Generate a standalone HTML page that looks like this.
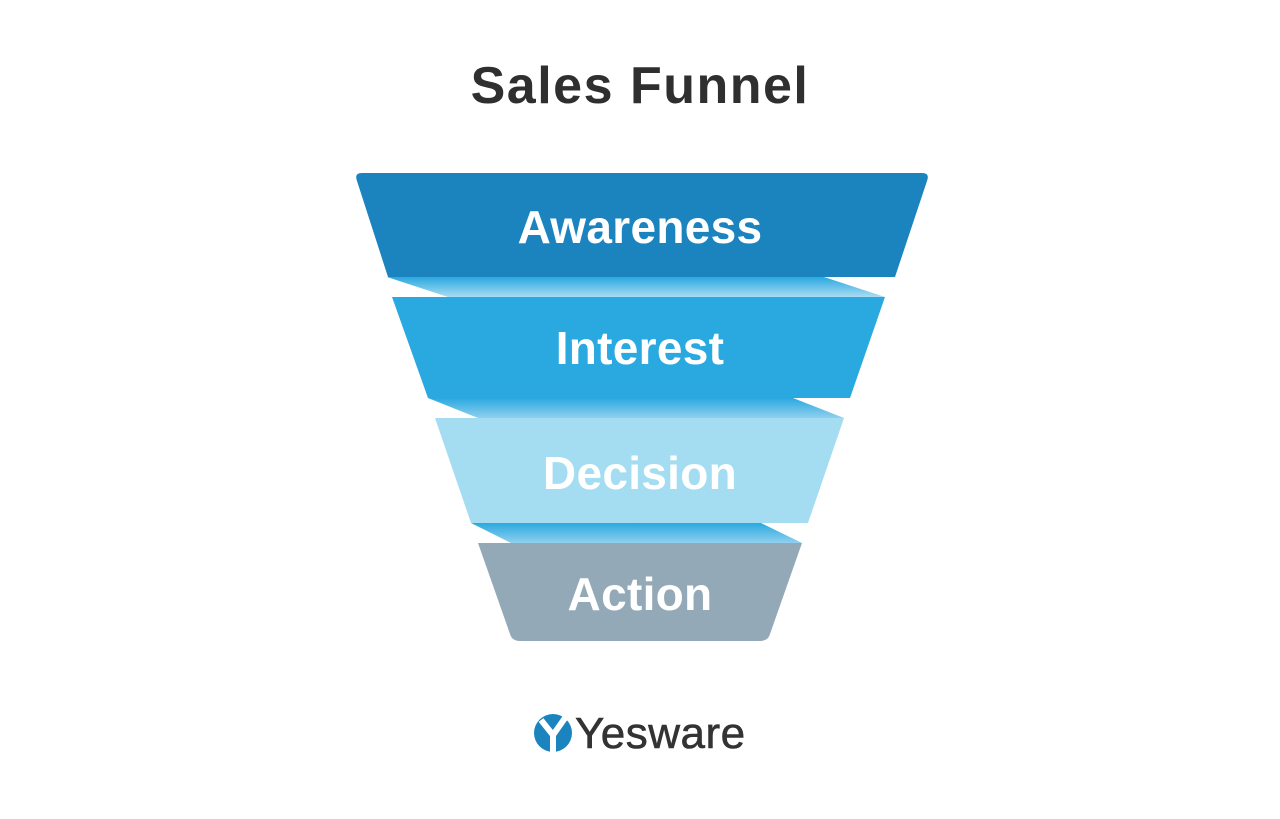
<!DOCTYPE html>
<html><head><meta charset="utf-8"><style>
html,body{margin:0;padding:0;background:#fff;}
body{width:1280px;height:814px;overflow:hidden;}
</style></head><body>
<svg width="1280" height="814" viewBox="0 0 1280 814" xmlns="http://www.w3.org/2000/svg" font-family="Liberation Sans, sans-serif">
<defs>
<linearGradient id="g1" x1="0" y1="0" x2="0" y2="1"><stop offset="0" stop-color="#2aa8e0"/><stop offset="1" stop-color="#a8dcf2"/></linearGradient>
<linearGradient id="g2" x1="0" y1="0" x2="0" y2="1"><stop offset="0" stop-color="#2aa8e0"/><stop offset="1" stop-color="#8fd0ee"/></linearGradient>
</defs>
<text x="640" y="103" text-anchor="middle" font-size="52" font-weight="bold" fill="#2f2f2f" letter-spacing="1.5">Sales Funnel</text>
<polygon points="387,277 824,277 885,297 448,297" fill="url(#g1)"/>
<polygon points="428,398 793,398 844,418 478,418" fill="url(#g2)"/>
<polygon points="471,523 761,523 802,543 511,543" fill="url(#g2)"/>
<path d="M362,173 L922,173 Q930,173 927,181 L895,277 L388,277 L357,181 Q354,173 362,173 Z" fill="#1b84be"/>
<polygon points="392,297 885,297 850,398 428,398" fill="#2aa9e0"/>
<polygon points="435,418 844,418 808,523 471,523" fill="#a4dcf1"/>
<path d="M478,543 L802,543 L770,634 Q768,641 760,641 L520,641 Q512,641 510,634 Z" fill="#93a9b7"/>
<g fill="#fff" font-weight="bold" font-size="46" text-anchor="middle" letter-spacing="0.3">
<text x="640" y="243">Awareness</text>
<text x="640" y="364">Interest</text>
<text x="640" y="489">Decision</text>
<text x="640" y="610">Action</text>
</g>
<circle cx="553" cy="733" r="19" fill="#1b84be"/>
<path d="M541,720 L553,735 L553,752 M565,718 L553,735" stroke="#fff" stroke-width="6" fill="none"/>
<text x="575" y="748" font-size="44" fill="#333" stroke="#333" stroke-width="0.6" letter-spacing="0.5">Yesware</text>
</svg>
</body></html>
